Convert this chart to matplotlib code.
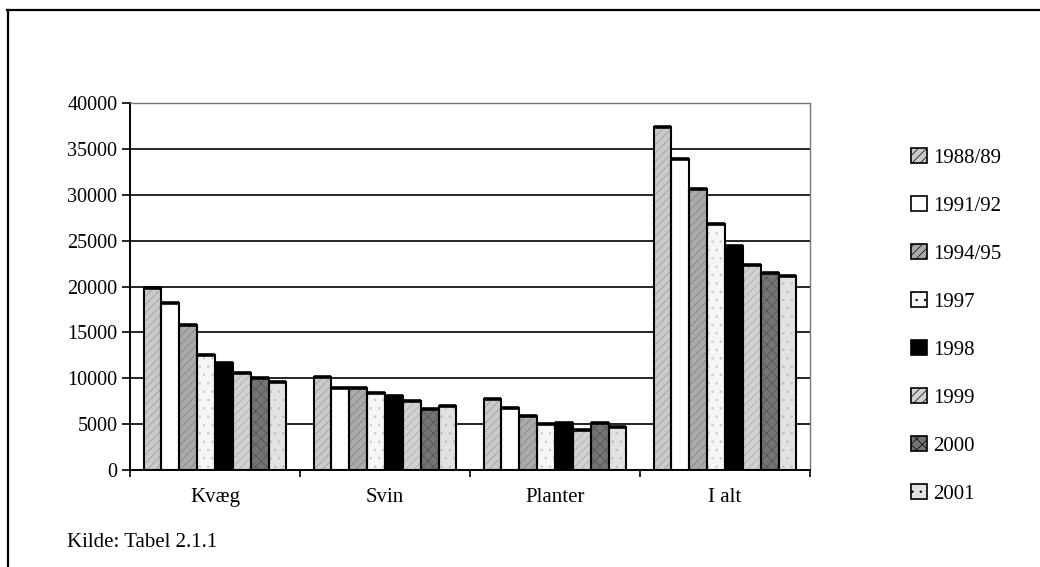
import numpy as np
import matplotlib
matplotlib.use("Agg")
from matplotlib import pyplot as plt
from matplotlib.patches import Patch
from matplotlib.lines import Line2D

plt.rcParams['font.family'] = ['Liberation Serif', 'DejaVu Serif']
plt.rcParams['hatch.linewidth'] = 0.5

categories = ["Kvæg", "Svin", "Planter", "I alt"]
years = ["1988/89", "1991/92", "1994/95", "1997", "1998", "1999", "2000", "2001"]

v_1988 = [19800, 10150, 7700, 37350]
v_1991 = [18150, 8900, 6800, 33850]
v_1994 = [15750, 8900, 5900, 30600]
v_1997 = [12550, 8350, 5000, 26800]
v_1998 = [11650, 8050, 5100, 24400]
v_1999 = [10550, 7500, 4400, 22350]
v_2000 = [10000, 6600, 5100, 21450]
v_2001 = [9600, 7000, 4650, 21100]
series = [v_1988, v_1991, v_1994, v_1997, v_1998, v_1999, v_2000, v_2001]

fills = ["#cacaca", "white", "#aaaaaa", "#f6f6f6", "black", "#d2d2d2", "#747474", "#e2e2e2"]
hatch_col = ["#9a9a9a", "white", "#808080", "#c8c8c8", "black", "#a8a8a8", "#505050", "#bcbcbc"]
hatches = ["////", None, "////", "..", None, "////", "xxx", ".."]

fig = plt.figure(figsize=(10.4, 5.67), dpi=100)
ax = fig.add_axes([130/1040, 97/567, 680/1040, 367/567])

x = np.arange(len(categories))
w = 0.105
for i, vals in enumerate(series):
    pos = x - 4*w + w/2 + i*w
    ax.bar(pos, vals, w, color=fills[i], hatch=hatches[i], edgecolor=hatch_col[i],
           linewidth=0, zorder=3)
    ax.bar(pos, vals, w, color="none", edgecolor="black", linewidth=1.5, zorder=4)
    ax.hlines(vals, pos - w/2, pos + w/2, color="black", linewidth=2.6, zorder=5)

ax.set_xlim(-0.5, 3.5)
ax.set_ylim(0, 40000)
ax.set_yticks(np.arange(0, 40001, 5000))
ax.tick_params(axis='y', direction='out', length=6, width=1.2, labelsize=14.5, pad=3)
ax.set_xticks([-0.5, 0.5, 1.5, 2.5, 3.5])
ax.set_xticklabels([])
ax.tick_params(axis='x', which='major', direction='out', length=5, width=1.2)
ax.set_xticks(x, minor=True)
ax.set_xticklabels(categories, minor=True)
ax.tick_params(axis='x', which='minor', length=0, labelsize=15, pad=13)

for yv in np.arange(5000, 40000, 5000):
    ax.axhline(yv, color="black", linewidth=1.2, zorder=1)

ax.spines['left'].set_linewidth(1.4)
ax.spines['bottom'].set_linewidth(1.4)
for s in ['top', 'right']:
    ax.spines[s].set_color("#777777")
    ax.spines[s].set_linestyle((0, (1, 1)))
    ax.spines[s].set_linewidth(1.0)

handles = [Patch(facecolor=fills[i], hatch=hatches[i], edgecolor="black", linewidth=1.2)
           for i in range(len(years))]
fig.legend(handles, years, loc='upper left', bbox_to_anchor=(911/1040, 1 - 148/567),
           frameon=False, fontsize=15, handlelength=0.75, handleheight=0.75,
           handletextpad=0.3, labelspacing=1.35, borderpad=0, borderaxespad=0)

fig.text(67/1040, 1 - 547/567, "Kilde: Tabel 2.1.1", fontsize=15, va='baseline')

# page frame: top and left edge only
fig.add_artist(Line2D([7/1040, 1], [1 - 10/567, 1 - 10/567], color="black", linewidth=1.6))
fig.add_artist(Line2D([8/1040, 8/1040], [0, 1 - 10/567], color="black", linewidth=1.6))

fig.savefig("out.png", dpi=100)
